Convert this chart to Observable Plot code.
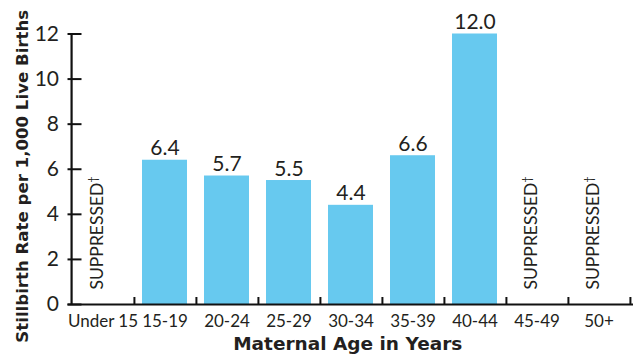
<!DOCTYPE html>
<html>
<head>
<meta charset="utf-8">
<script src="https://cdn.jsdelivr.net/npm/d3@7"></script>
<script src="https://cdn.jsdelivr.net/npm/@observablehq/plot@0.6"></script>
<style>
  html, body { margin: 0; padding: 0; background: #fff; }
  #chart svg { display: block; }
</style>
</head>
<body>
<div id="chart"></div>
<script>
const categories = ["Under 15", "15-19", "20-24", "25-29", "30-34", "35-39", "40-44", "45-49", "50+"];
const rates = [null, 6.4, 5.7, 5.5, 4.4, 6.6, 12.0, null, null];
const suppressedLabel = "SUPPRESSED†";
const yTicks = [0, 2, 4, 6, 8, 10, 12];
const yTitle = "Stillbirth Rate per 1,000 Live Births";
const xTitle = "Maternal Age in Years";

const data = categories.map((c, i) => ({category: c, rate: rates[i]}));
const shown = data.filter(d => d.rate != null);
const suppressed = data.filter(d => d.rate == null);

const W = 639, H = 360;
const mL = 67.5, mR = 6, mT = 33.5, mB = 56;
const frameW = W - mL - mR;
const frameH = H - mT - mB;
const step = frameW / categories.length;
const ink = "#231f20";
const font = "Lato, 'Open Sans', sans-serif";
const titleFont = "'DejaVu Sans', sans-serif";

const chart = Plot.plot({
  width: W,
  height: H,
  marginLeft: mL,
  marginRight: mR,
  marginTop: mT,
  marginBottom: mB,
  style: {fontFamily: font, color: ink, background: "#fff"},
  x: {domain: categories, paddingInner: 0.27, paddingOuter: 0.135, label: null},
  y: {domain: [0, 12], label: null},
  marks: [
    Plot.barY(shown, {x: "category", y: "rate", fill: "#67c9ef"}),
    Plot.text(shown, {x: "category", y: "rate", text: d => d.rate.toFixed(1), lineAnchor: "bottom", dy: -5, fontSize: 21, fill: ink}),
    Plot.text(suppressed, {x: "category", frameAnchor: "bottom", text: () => suppressedLabel, rotate: -90, textAnchor: "start", dy: -15, fontSize: 17.5, fill: ink, letterSpacing: 0.4}),
    Plot.axisX({tickSize: 0, tickPadding: 10, fontSize: 17, fill: ink, label: null}),
    Plot.axisY(yTicks, {tickSize: 0, tickPadding: 9, fontSize: 21, fill: ink, label: null}),
    Plot.tickY(yTicks, {y: d => d, insetRight: frameW - 14, stroke: "#111", strokeWidth: 2}),
    Plot.tickX(categories, {x: d => d, dx: step / 2, insetTop: frameH - 7, stroke: "#111", strokeWidth: 2}),
    Plot.ruleY([0], {stroke: "#111", strokeWidth: 2.2}),
    Plot.ruleX([categories[0]], {x: d => d, dx: -step / 2, stroke: "#111", strokeWidth: 2.2}),
    Plot.text([yTitle], {frameAnchor: "left", textAnchor: "middle", rotate: -90, dx: -45, dy: 7, fontSize: 16.6, fontWeight: "bold", fontFamily: titleFont, fill: ink}),
    Plot.text([xTitle], {frameAnchor: "bottom", dy: 45, dx: -3, fontSize: 18.5, fontWeight: "bold", fontFamily: titleFont, fill: ink})
  ]
});

// raise and shrink the dagger in the suppressed labels
d3.select(chart).selectAll("text").each(function() {
  const t = d3.select(this);
  if (t.text() === suppressedLabel) {
    t.text("SUPPRESSED");
    t.append("tspan").attr("baseline-shift", "super").attr("font-size", 11).text("†");
  }
});

document.getElementById("chart").appendChild(chart);
</script>
</body>
</html>
